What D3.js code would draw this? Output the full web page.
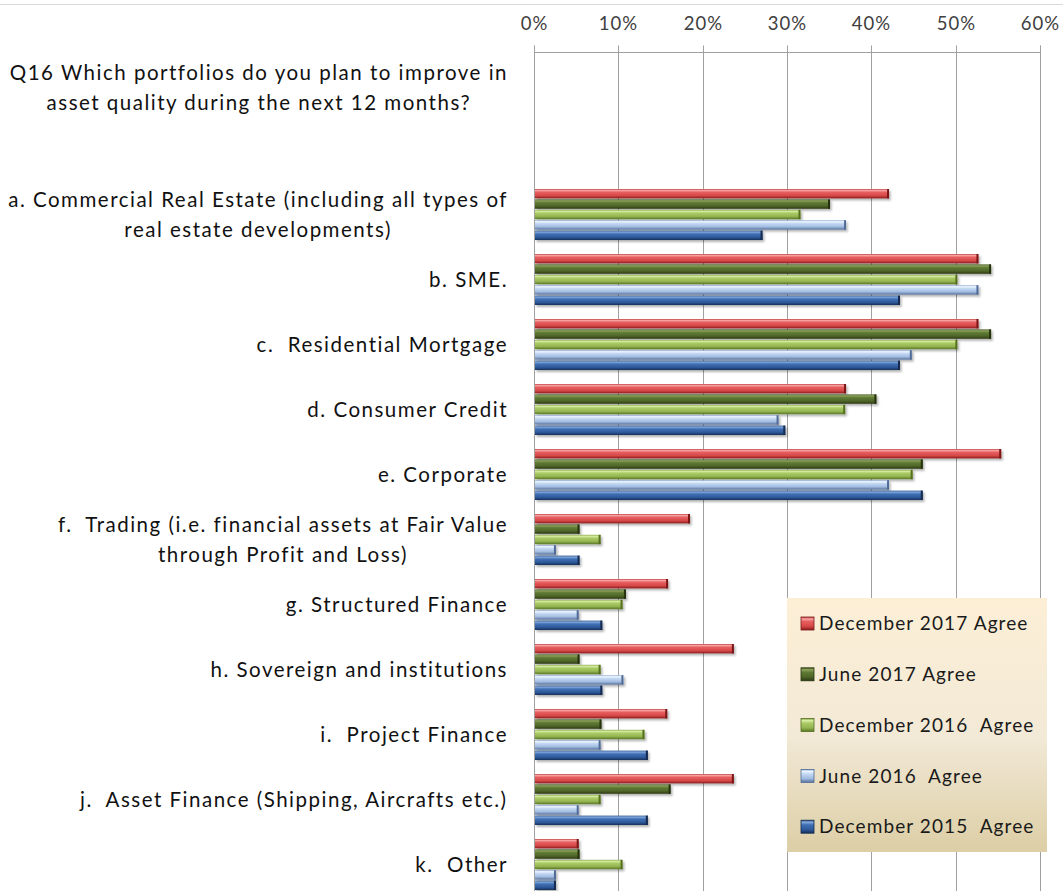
<!DOCTYPE html>
<html>
<head>
<meta charset="utf-8">
<script src="https://cdnjs.cloudflare.com/ajax/libs/d3/7.8.5/d3.min.js"></script>
<style>
  html, body { margin: 0; padding: 0; background: #fff; }
  svg { display: block; }
</style>
</head>
<body>
<div id="chart"></div>
<script>
// ---- Data ----
const categories = [
  "Q16 Which portfolios do you plan to improve in\nasset quality during the next 12 months?",
  "",
  "a. Commercial Real Estate (including all types of\nreal estate developments)",
  "b. SME.",
  "c.  Residential Mortgage",
  "d. Consumer Credit",
  "e. Corporate",
  "f.  Trading (i.e. financial assets at Fair Value\nthrough Profit and Loss)",
  "g. Structured Finance",
  "h. Sovereign and institutions",
  "i.  Project Finance",
  "j.  Asset Finance (Shipping, Aircrafts etc.)",
  "k.  Other"
];
const seriesNames = [
  "December 2017 Agree",
  "June 2017 Agree",
  "December 2016  Agree",
  "June 2016  Agree",
  "December 2015  Agree"
];
// values per category (a..k), null for title/blank rows
const dec2017 = [null, null, 0.421, 0.527, 0.527, 0.370, 0.554, 0.185, 0.159, 0.237, 0.158, 0.237, 0.053];
const jun2017 = [null, null, 0.351, 0.542, 0.542, 0.406, 0.461, 0.054, 0.109, 0.054, 0.080, 0.162, 0.054];
const dec2016 = [null, null, 0.316, 0.502, 0.502, 0.369, 0.449, 0.079, 0.105, 0.079, 0.131, 0.079, 0.105];
const jun2016 = [null, null, 0.370, 0.527, 0.448, 0.290, 0.421, 0.026, 0.053, 0.106, 0.079, 0.053, 0.026];
const dec2015 = [null, null, 0.271, 0.434, 0.434, 0.298, 0.461, 0.054, 0.081, 0.081, 0.135, 0.135, 0.026];
const seriesValues = [dec2017, jun2017, dec2016, jun2016, dec2015];
const tickValues = [0, 0.1, 0.2, 0.3, 0.4, 0.5, 0.6];

// ---- Styles ----
const gradStops = [
  ["#c24040", "#f6a4a4", "#e65f5f", "#d84848", "#8c1f1f"],
  ["#475b24", "#8da35c", "#5f7a33", "#4f6628", "#2c3a14"],
  ["#86a446", "#d8eea3", "#aacb66", "#94b552", "#5b7727"],
  ["#8fadd6", "#eef6ff", "#c3d8f3", "#a2bce0", "#55719d"],
  ["#2b518c", "#86acdf", "#4170b4", "#2f5b9d", "#17305a"]
];
const endColors = ["#7a1717", "#26330f", "#55701f", "#4f6b96", "#132a4f"];
const FONT = "Lato, 'Open Sans', sans-serif";

const W = 1063, H = 891;
const svg = d3.select("#chart").append("svg").attr("width", W).attr("height", H)
  .style("font-family", FONT);

const defs = svg.append("defs");
gradStops.forEach((s, i) => {
  const g = defs.append("linearGradient").attr("id", "g" + i)
    .attr("x1", 0).attr("y1", 0).attr("x2", 0).attr("y2", 1);
  [0, 0.15, 0.35, 0.7, 1].forEach((o, j) => g.append("stop").attr("offset", o).attr("stop-color", s[j]));
});
const lg = defs.append("linearGradient").attr("id", "legbg").attr("x1", 0).attr("y1", 0).attr("x2", 0).attr("y2", 1);
lg.append("stop").attr("offset", 0).attr("stop-color", "#fdefd6");
lg.append("stop").attr("offset", 0.55).attr("stop-color", "#f2e9d6");
lg.append("stop").attr("offset", 1).attr("stop-color", "#dccea5");
const sh = defs.append("filter").attr("id", "shadow").attr("x", "-5%").attr("y", "-50%").attr("width", "120%").attr("height", "220%");
sh.append("feDropShadow").attr("dx", 1.5).attr("dy", 2).attr("stdDeviation", 1.2).attr("flood-color", "#000").attr("flood-opacity", 0.3);

// top border line
svg.append("line").attr("x1", 0).attr("x2", W).attr("y1", 4.5).attr("y2", 4.5)
  .attr("stroke", "#d9d9d9").attr("stroke-width", 1);

// ---- Scales ----
const x = d3.scaleLinear().domain([0, 0.6]).range([534, 1040]);
const y = d3.scaleBand().domain(categories).range([52, 897]).padding(0);
const yInner = d3.scaleBand().domain(seriesNames).range([-25.5, 25.5]).paddingInner(0.1);

// gridlines
svg.append("g").selectAll("line").data(tickValues).join("line")
  .attr("x1", d => Math.round(x(d)) + 0.5).attr("x2", d => Math.round(x(d)) + 0.5)
  .attr("y1", 52).attr("y2", H)
  .attr("stroke", "#a0a0a0").attr("stroke-width", 1);

// top axis
const axis = d3.axisTop(x).tickValues(tickValues).tickFormat(d3.format(".0%")).tickSize(7).tickPadding(16);
const ag = svg.append("g").attr("transform", "translate(0.5,52.5)").call(axis);
ag.select(".domain").attr("stroke", "#a0a0a0").attr("d", `M${x(0)},-7V0H${x(0.6)}V-7`);
ag.selectAll(".tick line").attr("stroke", "#a0a0a0");
ag.selectAll(".tick text").attr("fill", "#404040").style("font-size", "18.5px")
  .style("letter-spacing", "1px")
  .style("font-family", FONT);
ag.selectAll(".tick").attr("transform", d => `translate(${Math.round(x(d))},0)`);

// category labels
const labelRight = 508;
const lineH = 30;
categories.forEach((cat, ci) => {
  if (!cat) return;
  const lines = cat.split("\n");
  const cy = y(cat) + y.bandwidth() / 2 + (ci === 0 ? 3 : 0);
  const g = svg.append("g");
  const texts = lines.map((ln, i) => g.append("text")
    .attr("y", cy + (i - (lines.length - 1) / 2) * lineH)
    .attr("dy", "0.35em")
    .attr("fill", "#111")
    .style("font-size", "20.5px")
    .style("letter-spacing", "1.5px")
    .style("white-space", "pre")
    .attr("xml:space", "preserve")
    .text(ln));
  const widths = texts.map(t => t.node().getBBox().width);
  const mw = d3.max(widths);
  const cx = labelRight - mw / 2;
  texts.forEach(t => t.attr("x", cx).attr("text-anchor", "middle"));
});

// bars
const barData = [];
categories.forEach((cat, ci) => {
  seriesNames.forEach((s, si) => {
    const v = seriesValues[si][ci];
    if (v != null) barData.push({ cat, s, si, v });
  });
});
const bg = svg.append("g");
const bars = bg.selectAll("g.bar").data(barData).join("g").attr("class", "bar")
  .attr("filter", "url(#shadow)");
bars.append("rect")
  .attr("x", x(0) + 1)
  .attr("y", d => y(d.cat) + y.bandwidth() / 2 + yInner(d.s))
  .attr("width", d => Math.max(0, x(d.v) - x(0) - 1))
  .attr("height", yInner.bandwidth())
  .attr("fill", d => `url(#g${d.si})`);
bars.append("rect")
  .attr("x", d => x(d.v) - 2)
  .attr("y", d => y(d.cat) + y.bandwidth() / 2 + yInner(d.s))
  .attr("width", 2)
  .attr("height", yInner.bandwidth())
  .attr("fill", d => endColors[d.si]);

// left axis line
svg.append("line").attr("x1", Math.round(x(0)) + 0.5).attr("x2", Math.round(x(0)) + 0.5)
  .attr("y1", 52).attr("y2", H).attr("stroke", "#a0a0a0");

// legend
const leg = svg.append("g").attr("transform", "translate(787,598)");
leg.append("rect").attr("width", 260).attr("height", 254).attr("fill", "url(#legbg)");
const items = leg.selectAll("g.item").data(seriesNames).join("g").attr("class", "item")
  .attr("transform", (d, i) => `translate(0,${25.5 + i * 50.8})`);
items.append("rect").attr("x", 14).attr("y", -6.5).attr("width", 13).attr("height", 13)
  .attr("fill", (d, i) => `url(#g${i})`).attr("stroke", (d, i) => endColors[i]).attr("stroke-width", 0.8);
items.append("text").attr("x", 32).attr("dy", "0.35em").attr("fill", "#1a1a1a")
  .style("font-size", "19px").style("letter-spacing", "1.1px")
  .attr("xml:space", "preserve").style("white-space", "pre").text(d => d);
</script>
</body>
</html>
